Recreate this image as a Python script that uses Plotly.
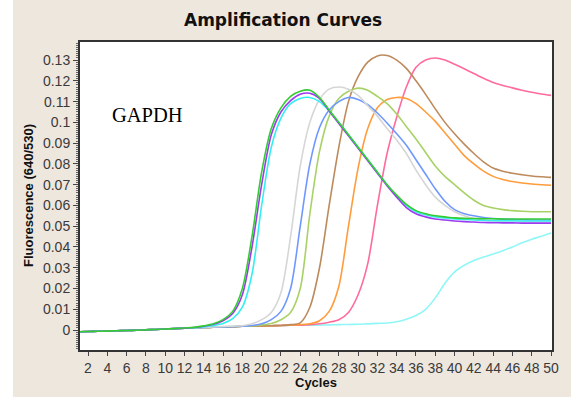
import plotly.graph_objects as go

cycles = list(range(1, 51))

green = [-0.0008, -0.0007, -0.0006, -0.0005, -0.0003, -0.0002, -0.0001, 0.0001, 0.0003, 0.0005,
         0.0007, 0.0010, 0.0013, 0.0020, 0.0030, 0.0050, 0.0090, 0.0200, 0.0450, 0.0760,
         0.0970, 0.1070, 0.1125, 0.1150, 0.1155, 0.1120, 0.1060, 0.1000, 0.0940, 0.0880,
         0.0820, 0.0760, 0.0700, 0.0650, 0.0605, 0.0575, 0.0560, 0.0550, 0.0545, 0.0540,
         0.0538, 0.0537, 0.0536, 0.0536, 0.0535, 0.0535, 0.0535, 0.0535, 0.0535, 0.0535]
purple = [-0.0008, -0.0007, -0.0006, -0.0005, -0.0003, -0.0002, -0.0001, 0.0001, 0.0003, 0.0005,
          0.0007, 0.0009, 0.0012, 0.0018, 0.0028, 0.0045, 0.0080, 0.0170, 0.0400, 0.0700,
          0.0940, 0.1050, 0.1105, 0.1135, 0.1140, 0.1115, 0.1055, 0.0995, 0.0935, 0.0875,
          0.0815, 0.0755, 0.0695, 0.0640, 0.0590, 0.0560, 0.0545, 0.0535, 0.0530, 0.0525,
          0.0522, 0.0520, 0.0518, 0.0517, 0.0516, 0.0516, 0.0515, 0.0515, 0.0515, 0.0515]
cyan = [-0.0008, -0.0007, -0.0006, -0.0005, -0.0003, -0.0002, -0.0001, 0.0001, 0.0003, 0.0005,
        0.0007, 0.0009, 0.0011, 0.0015, 0.0022, 0.0032, 0.0055, 0.0110, 0.0270, 0.0600,
        0.0880, 0.1020, 0.1090, 0.1115, 0.1120, 0.1100, 0.1055, 0.1000, 0.0940, 0.0880,
        0.0820, 0.0760, 0.0700, 0.0645, 0.0600, 0.0570, 0.0555, 0.0545, 0.0540, 0.0535,
        0.0532, 0.0530, 0.0528, 0.0527, 0.0526, 0.0526, 0.0525, 0.0525, 0.0525, 0.0525]
gray = [-0.0008, -0.0007, -0.0006, -0.0005, -0.0003, -0.0002, -0.0001, 0.0001, 0.0003, 0.0005,
        0.0007, 0.0009, 0.0011, 0.0013, 0.0015, 0.0017, 0.0019, 0.0021, 0.0030, 0.0050,
        0.0085, 0.0180, 0.0450, 0.0790, 0.1000, 0.1110, 0.1160, 0.1170, 0.1160, 0.1130,
        0.1080, 0.1030, 0.0970, 0.0915, 0.0850, 0.0770, 0.0700, 0.0640, 0.0600, 0.0570,
        0.0550, 0.0537, 0.0530, 0.0525, 0.0522, 0.0520, 0.0520, 0.0520, 0.0520, 0.0520]
blue = [-0.0008, -0.0007, -0.0006, -0.0005, -0.0003, -0.0002, -0.0001, 0.0001, 0.0003, 0.0005,
        0.0007, 0.0009, 0.0011, 0.0012, 0.0014, 0.0015, 0.0016, 0.0018, 0.0022, 0.0030,
        0.0050, 0.0090, 0.0200, 0.0500, 0.0800, 0.0975, 0.1060, 0.1100, 0.1120, 0.1110,
        0.1085, 0.1045, 0.0997, 0.0945, 0.0890, 0.0820, 0.0750, 0.0680, 0.0620, 0.0580,
        0.0560, 0.0550, 0.0542, 0.0537, 0.0534, 0.0532, 0.0531, 0.0530, 0.0530, 0.0530]
yellowgreen = [-0.0008, -0.0007, -0.0006, -0.0005, -0.0003, -0.0002, -0.0001, 0.0001, 0.0003, 0.0005,
               0.0007, 0.0009, 0.0011, 0.0012, 0.0014, 0.0015, 0.0016, 0.0018, 0.0020, 0.0025,
               0.0032, 0.0050, 0.0085, 0.0200, 0.0560, 0.0860, 0.1030, 0.1115, 0.1150, 0.1165,
               0.1155, 0.1125, 0.1090, 0.1040, 0.0980, 0.0920, 0.0855, 0.0790, 0.0740, 0.0700,
               0.0660, 0.0625, 0.0600, 0.0588, 0.0580, 0.0575, 0.0572, 0.0570, 0.0570, 0.0570]
brown = [-0.0008, -0.0007, -0.0006, -0.0005, -0.0003, -0.0002, -0.0001, 0.0001, 0.0003, 0.0005,
         0.0007, 0.0009, 0.0011, 0.0012, 0.0014, 0.0015, 0.0016, 0.0018, 0.0019, 0.0020,
         0.0021, 0.0022, 0.0026, 0.0035, 0.0110, 0.0300, 0.0600, 0.0880, 0.1100, 0.1220,
         0.1290, 0.1320, 0.1322, 0.1300, 0.1260, 0.1200, 0.1135, 0.1065, 0.1000, 0.0945,
         0.0895, 0.0850, 0.0810, 0.0780, 0.0765, 0.0755, 0.0748, 0.0742, 0.0738, 0.0735]
orange = [-0.0008, -0.0007, -0.0006, -0.0005, -0.0003, -0.0002, -0.0001, 0.0001, 0.0003, 0.0005,
          0.0007, 0.0009, 0.0011, 0.0012, 0.0014, 0.0015, 0.0016, 0.0018, 0.0019, 0.0020,
          0.0021, 0.0022, 0.0024, 0.0026, 0.0030, 0.0045, 0.0090, 0.0210, 0.0500, 0.0780,
          0.0970, 0.1070, 0.1110, 0.1120, 0.1115, 0.1090, 0.1050, 0.1005, 0.0950, 0.0895,
          0.0840, 0.0800, 0.0765, 0.0740, 0.0725, 0.0715, 0.0708, 0.0703, 0.0700, 0.0697]
pink = [-0.0008, -0.0007, -0.0006, -0.0005, -0.0003, -0.0002, -0.0001, 0.0001, 0.0003, 0.0005,
        0.0007, 0.0009, 0.0011, 0.0012, 0.0014, 0.0015, 0.0016, 0.0018, 0.0019, 0.0020,
        0.0021, 0.0022, 0.0023, 0.0024, 0.0026, 0.0030, 0.0038, 0.0050, 0.0085, 0.0170,
        0.0320, 0.0600, 0.0850, 0.1025, 0.1170, 0.1265, 0.1300, 0.1310, 0.1300, 0.1280,
        0.1258, 0.1235, 0.1212, 0.1192, 0.1178, 0.1166, 0.1155, 0.1145, 0.1137, 0.1130]
late_cyan = [-0.0008, -0.0007, -0.0006, -0.0005, -0.0003, -0.0002, -0.0001, 0.0001, 0.0003, 0.0005,
             0.0007, 0.0009, 0.0011, 0.0012, 0.0014, 0.0016, 0.0017, 0.0018, 0.0019, 0.0020,
             0.0021, 0.0022, 0.0023, 0.0023, 0.0024, 0.0024, 0.0025, 0.0026, 0.0027, 0.0028,
             0.0030, 0.0032, 0.0034, 0.0040, 0.0052, 0.0070, 0.0100, 0.0155, 0.0225, 0.0280,
             0.0312, 0.0335, 0.0352, 0.0366, 0.0382, 0.0400, 0.0420, 0.0437, 0.0452, 0.0467]

series_names = ["late", "pink", "orange", "brown", "yellowgreen", "blue", "gray", "cyan", "purple", "green"]
series_values = [late_cyan, pink, orange, brown, yellowgreen, blue, gray, cyan, purple, green]
series_colors = ["#8ff7f7", "#ff6b9c", "#ff9c3c", "#bd8a5c", "#a8d266", "#6f98ff",
                 "#d6d6d6", "#33f0f0", "#9b3cf0", "#33cc33"]

x_tick_vals = list(range(2, 51, 2))
y_tick_vals = [0, 0.01, 0.02, 0.03, 0.04, 0.05, 0.06, 0.07, 0.08, 0.09, 0.1, 0.11, 0.12, 0.13]
y_tick_text = ["0", "0.01", "0.02", "0.03", "0.04", "0.05", "0.06", "0.07", "0.08", "0.09",
               "0.1", "0.11", "0.12", "0.13"]

fig = go.Figure()
for name, vals, col in zip(series_names, series_values, series_colors):
    fig.add_trace(go.Scatter(x=cycles, y=vals, mode="lines", name=name,
                             line=dict(color=col, width=1.6, shape="spline", smoothing=0.8),
                             showlegend=False, hoverinfo="skip"))

W, H = 581, 403
L, R, T, B = 80, 29, 42, 53
pw, ph = W - L - R, H - T - B
BEIGE = "#eee7de"

def px_x(v):
    return (v - L) / pw

def px_y(v):
    return (H - B - v) / ph

# thin white border around the beige window (left, right, bottom)
for x0, x1, y0, y1 in [(0, 13, 0, H), (571, W, 0, H), (0, W, 397, H)]:
    fig.add_shape(type="rect", xref="paper", yref="paper", layer="below",
                  x0=px_x(x0), x1=px_x(x1), y0=px_y(y1), y1=px_y(y0),
                  fillcolor="#ffffff", line=dict(width=0))

fig.update_layout(
    width=W, height=H,
    margin=dict(l=L, r=R, t=T, b=B),
    paper_bgcolor=BEIGE,
    plot_bgcolor="#ffffff",
    font=dict(family="Liberation Sans, Arial, sans-serif", color="#444444"),
    annotations=[
        dict(text="<b>Amplification Curves</b>", xref="paper", yref="paper",
             x=px_x(283), y=px_y(20), showarrow=False,
             font=dict(family="DejaVu Sans", size=17, color="#111111"),
             xanchor="center", yanchor="middle"),
        dict(text="<b>Fluorescence (640/530)</b>", xref="paper", yref="paper",
             x=px_x(28), y=0.5, showarrow=False, textangle=-90,
             font=dict(family="Liberation Sans, Arial", size=13, color="#111111"),
             xanchor="center", yanchor="middle"),
        dict(text="<b>Cycles</b>", xref="paper", yref="paper",
             x=0.5, y=px_y(382), showarrow=False,
             font=dict(family="Liberation Sans, Arial", size=13, color="#111111"),
             xanchor="center", yanchor="middle"),
        dict(text="GAPDH", xref="paper", yref="paper",
             x=px_x(110), y=px_y(115), showarrow=False,
             font=dict(family="Liberation Serif, Times New Roman, serif", size=20.5, color="#000000"),
             xanchor="left", yanchor="middle"),
    ],
)

fig.update_xaxes(range=[1.17, 50.1], tickvals=x_tick_vals, ticks="outside", ticklen=4,
                 tickcolor="#444444", tickfont=dict(size=14, color="#3a3a3a"),
                 showgrid=False, zeroline=False, showline=True, linecolor="#333333",
                 linewidth=2, mirror=True)
fig.update_yaxes(range=[-0.0096, 0.1387], tickvals=y_tick_vals, ticktext=y_tick_text,
                 ticks="outside", ticklen=5, tickcolor="#444444",
                 tickfont=dict(size=14, color="#3a3a3a"),
                 minor=dict(dtick=0.001, ticks="outside", ticklen=2.5, tickcolor="#666666"),
                 showgrid=False, zeroline=False, showline=True, linecolor="#333333",
                 linewidth=2, mirror=True)

fig.write_html("out.html")
